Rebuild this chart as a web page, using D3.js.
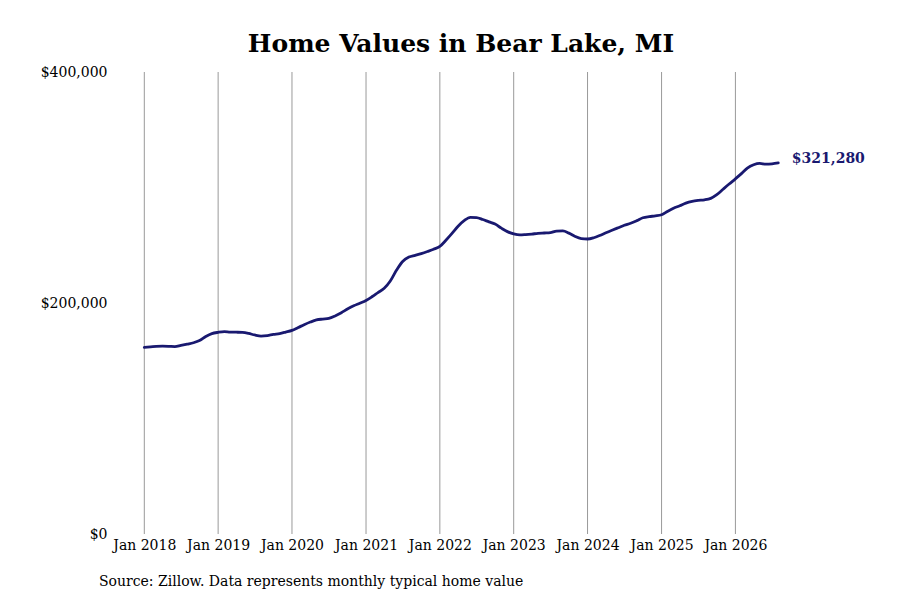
<!DOCTYPE html>
<html>
<head>
<meta charset="utf-8">
<script src="https://cdn.jsdelivr.net/npm/d3@7"></script>
<style>
  html, body { margin: 0; padding: 0; background: #fff; }
  svg { display: block; font-family: "DejaVu Serif", serif; }
</style>
</head>
<body>
<svg id="chart" width="900" height="600"></svg>
<script>
const title = "Home Values in Bear Lake, MI";
const source = "Source: Zillow. Data represents monthly typical home value";
const startMonth = "2018-01";
// Monthly typical home value (Jan 2018 – Aug 2026), USD
const values = [
  161600, 162000, 162400, 162600, 162500, 162300, 163300, 164400, 165600, 167500, 171000, 173500,
  174600, 175200, 174800, 174700, 174500, 173600, 172300, 171400, 171800, 172800, 173500, 174800,
  176300, 178800, 181200, 183500, 185300, 186100, 186700, 188800, 191600, 194800, 197600, 199800,
  202200, 205600, 209000, 212700, 219000, 228500, 236000, 239800, 241300, 242800, 244600, 246500,
  249000, 254500, 260000, 266500, 271300, 274200, 274000, 272300, 270200, 268300, 264800, 261800,
  259800, 258900, 259200, 259700, 260300, 260600, 260900, 262300, 262400, 260500, 257600, 255800,
  255400, 256500, 258400, 260800, 263000, 265200, 267300, 269000, 271300, 273800, 274800, 275400,
  276400, 279500, 282000, 284200, 286500, 288000, 288800, 289300, 290600, 293800, 298500, 303000,
  307500, 312200, 316800, 319700, 320900, 320200, 320500, 321280
];
const yTicks = [0, 200000, 400000];
const xTickYears = [2018, 2019, 2020, 2021, 2022, 2023, 2024, 2025, 2026];

const parse = d3.timeParse("%Y-%m");
const t0 = parse(startMonth);
const data = values.map((v, i) => ({ date: d3.timeMonth.offset(t0, i), value: v }));

const svg = d3.select("#chart");
const lineColor = "#191970";

const x = d3.scaleTime()
  .domain([data[0].date, data[data.length - 1].date])
  .range([144.3, 778.3]);
const y = d3.scaleLinear().domain([0, 400000]).range([534, 72]);

// Title
svg.append("text")
  .attr("x", 461).attr("y", 52)
  .attr("text-anchor", "middle")
  .attr("font-size", 25).attr("font-weight", "bold")
  .attr("fill", "#000")
  .text(title);

// Vertical gridlines at each January
const xTicks = xTickYears.map(yr => new Date(yr, 0, 1));
svg.append("g").selectAll("line")
  .data(xTicks).join("line")
  .attr("x1", d => x(d)).attr("x2", d => x(d))
  .attr("y1", y(400000)).attr("y2", y(0))
  .attr("stroke", "#999").attr("stroke-width", 1);

// X axis labels
const xAxis = d3.axisBottom(x).tickValues(xTicks).tickFormat(d3.timeFormat("Jan %Y")).tickSize(0).tickPadding(6);
const gx = svg.append("g").attr("transform", `translate(0,${y(0)})`).call(xAxis);
gx.select(".domain").remove();
gx.selectAll("text").attr("font-size", 14).attr("fill", "#000").attr("font-family", "DejaVu Serif, serif");

// Y axis labels
const yAxis = d3.axisLeft(y).tickValues(yTicks).tickFormat(d => "$" + d3.format(",")(d)).tickSize(0).tickPadding(0);
const gy = svg.append("g").attr("transform", `translate(107.5,0)`).call(yAxis);
gy.select(".domain").remove();
gy.selectAll("text").attr("font-size", 14).attr("fill", "#000").attr("font-family", "DejaVu Serif, serif");

// Line
const line = d3.line().x(d => x(d.date)).y(d => y(d.value)).curve(d3.curveMonotoneX);
svg.append("path")
  .datum(data)
  .attr("d", line)
  .attr("fill", "none")
  .attr("stroke", lineColor)
  .attr("stroke-width", 2.8)
  .attr("stroke-linejoin", "round")
  .attr("stroke-linecap", "round");

// End label
const last = data[data.length - 1];
svg.append("text")
  .attr("x", x(last.date) + 13.5).attr("y", y(last.value) - 5)
  .attr("dy", "0.35em")
  .attr("font-size", 14).attr("font-weight", "bold")
  .attr("fill", lineColor)
  .text("$" + d3.format(",")(last.value));

// Source
svg.append("text")
  .attr("x", 99).attr("y", 586)
  .attr("font-size", 14).attr("fill", "#000")
  .text(source);
</script>
</body>
</html>
